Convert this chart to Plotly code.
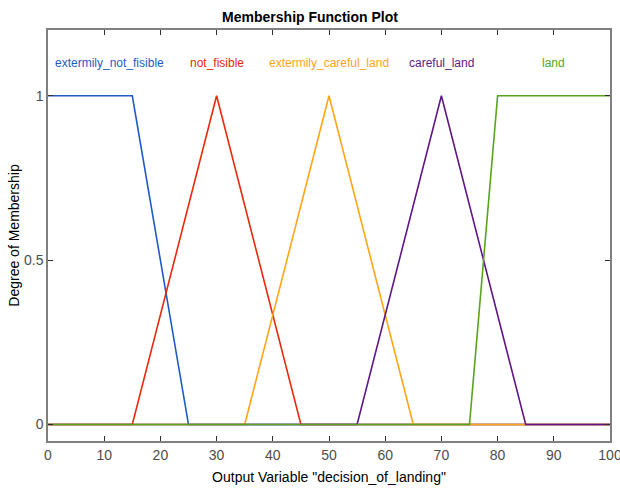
import plotly.graph_objects as go

# Output variable "decision_of_landing": universe of discourse and membership functions
x_range = [0, 100]
mf_names = ["extermily_not_fisible", "not_fisible", "extermily_careful_land", "careful_land", "land"]
mf_types = ["trapmf", "trimf", "trimf", "trimf", "trapmf"]
mf_params = [
    [0, 0, 15, 25],
    [15, 30, 45],
    [35, 50, 65],
    [55, 70, 85],
    [75, 80, 100, 100],
]
mf_colors = ["#1f5bc6", "#e8290b", "#ffa516", "#5f1787", "#58a41c"]
label_x = [11, 30, 50, 70, 90]
label_y = 1.1

x_ticks = [0, 10, 20, 30, 40, 50, 60, 70, 80, 90, 100]
y_ticks = [0, 0.5, 1]
y_tick_text = ["0", "0.5", "1"]


def mf_vertices(kind, p, lo, hi):
    """Corner points of a piecewise-linear MF over the whole universe."""
    if kind == "trimf":
        a, b, c = p
        return [lo, a, b, c, hi], [0, 0, 1, 0, 0]
    a, b, c, d = p
    xs = [lo, a, b, c, d, hi]
    ys = [0, 0, 1, 1, 0, 0]
    if b == a:
        ys[0] = ys[1] = 1
    if d == c:
        ys[4] = ys[5] = 1
    return xs, ys


fig = go.Figure()
for name, kind, p, col in zip(mf_names, mf_types, mf_params, mf_colors):
    xs, ys = mf_vertices(kind, p, *x_range)
    fig.add_trace(go.Scatter(x=xs, y=ys, mode="lines", name=name,
                             line=dict(color=col, width=1.6), showlegend=False,
                             hoverinfo="skip"))

for name, lx, col in zip(mf_names, label_x, mf_colors):
    fig.add_annotation(x=lx, y=label_y, text=name, showarrow=False,
                       font=dict(family="Arial, Liberation Sans", size=12, color=col),
                       xanchor="center", yanchor="middle")

axis_common = dict(showline=True, linecolor="#808080", linewidth=1.5, mirror="allticks",
                   ticks="inside", ticklen=5, tickcolor="#303030", tickwidth=1,
                   showgrid=False, zeroline=False, automargin=False,
                   ticklabeloverflow="allow",
                   tickfont=dict(family="Arial, Liberation Sans", size=14, color="#4d4d4d"))

fig.update_layout(
    width=620, height=488,
    margin=dict(l=48, r=10, t=30, b=47),
    paper_bgcolor="white", plot_bgcolor="white",
    title=dict(text="<b>Membership Function Plot</b>", x=0.5, xanchor="center",
               y=1 - 17 / 488, yanchor="middle",
               font=dict(family="Arial, Liberation Sans", size=14, color="black")),
    xaxis=dict(range=x_range, tickvals=x_ticks,
               title=dict(text='Output Variable "decision_of_landing"', standoff=11,
                          font=dict(family="Arial, Liberation Sans", size=14, color="black")),
               **axis_common),
    yaxis=dict(range=[-0.05, 1.2], tickvals=y_ticks, ticktext=y_tick_text,
               title=dict(text="Degree of Membership", standoff=1,
                          font=dict(family="Arial, Liberation Sans", size=14, color="black")),
               **axis_common),
)

fig.write_html("out.html")
